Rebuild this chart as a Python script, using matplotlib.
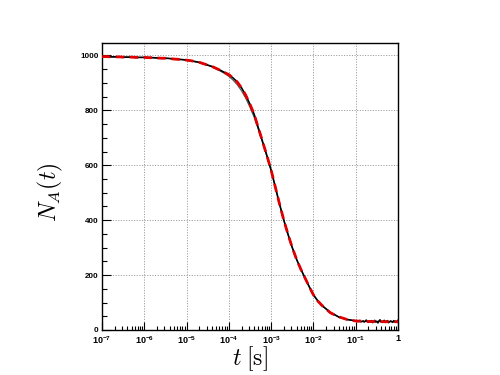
import numpy as np
import matplotlib
matplotlib.use("Agg")
import matplotlib.pyplot as plt
from matplotlib.ticker import LogLocator, MultipleLocator, FixedLocator, FixedFormatter

# ---- data ----
# main part: log10(t) from -7.0 to -1.1 in steps of 0.1
logt_main = np.round(np.arange(-7.0, -1.05, 0.1), 3)
data_main = [995, 995, 995, 995, 994, 994, 994, 994, 993, 993,
             993, 992, 992, 991, 990, 990, 989, 987, 986, 985,
             983, 981, 978, 975, 970, 965, 960, 953, 946, 938,
             930, 918, 903, 882, 855, 822, 785, 735, 685, 635,
             582, 520, 458, 400, 348, 300, 258, 222, 190, 158,
             128, 107, 89, 77, 63, 56, 47, 43, 38, 36]
# tail: log10(t) from -1.0 to 0.0 in steps of 0.025 (noisy)
logt_tail = np.round(np.arange(-1.0, 0.0001, 0.025), 3)
data_tail = [33, 34, 31, 32, 35, 30, 31, 33, 29, 32,
             36, 31, 28, 33, 30, 34, 27, 31, 35, 29,
             32, 26, 33, 37, 30, 28, 32, 35, 29, 31,
             34, 27, 30, 33, 31, 28, 34, 30, 32, 29,
             35]

# fits: log10(t) from -7.0 to 0.0 in steps of 0.1
logt_fit = np.round(np.arange(-7.0, 0.05, 0.1), 3)
fit_red = [996, 996, 995, 995, 995, 994, 994, 994, 993, 993,
           993, 992, 992, 991, 990, 990, 989, 987, 986, 985,
           983, 981, 978, 975, 970, 965, 960, 953, 946, 938,
           930, 918, 903, 882, 855, 822, 785, 735, 685, 635,
           582, 520, 458, 400, 348, 300, 258, 222, 190, 158,
           128, 106, 90, 76, 63, 55, 48, 43, 38, 35,
           33, 32, 31.5, 31, 31, 30.5, 30.5, 30, 30, 30, 30]
fit_gray = [995, 995, 995, 995, 994, 994, 994, 994, 993, 993,
            993, 992, 992, 991, 990, 990, 989, 987, 986, 985,
            983, 980, 977, 974, 969, 964, 959, 951, 943, 934,
            924, 910, 893, 871, 844, 811, 774, 729, 681, 632,
            580, 520, 458, 400, 348, 300, 258, 222, 190, 158,
            128, 106, 90, 76, 63, 55, 48, 43, 38, 35,
            33, 32, 31.5, 31, 31, 30.5, 30.5, 30, 30, 30, 30]

xtick_exp = [-7, -6, -5, -4, -3, -2, -1, 0]
xtick_labels = [r"$10^{-7}$", r"$10^{-6}$", r"$10^{-5}$", r"$10^{-4}$",
                r"$10^{-3}$", r"$10^{-2}$", r"$10^{-1}$", "1"]
yticks = [0, 200, 400, 600, 800, 1000]

# ---- style ----
plt.rcParams["mathtext.fontset"] = "custom"
plt.rcParams["mathtext.rm"] = "Liberation Sans:bold"
plt.rcParams["mathtext.it"] = "Liberation Sans:bold"
plt.rcParams["mathtext.bf"] = "Liberation Sans:bold"
plt.rcParams["font.family"] = ["Liberation Sans", "DejaVu Sans"]

fig = plt.figure(figsize=(5, 3.75), dpi=100)
ax = fig.add_axes([0.204, 0.12, 0.592, 0.765])

t_data = np.concatenate([10.0 ** logt_main, 10.0 ** logt_tail])
n_data = np.concatenate([data_main, data_tail])
t_fit = 10.0 ** logt_fit

ax.plot(t_fit, fit_gray, color="#505050", lw=0.8, zorder=3)
ax.plot(t_data, n_data, color="black", lw=1.2, zorder=4)
ax.plot(t_fit, fit_red, color="#e00000", lw=2.0, ls=(0, (3, 2)), zorder=5)

ax.set_xscale("log")
ax.set_xlim(1e-7, 1)
ax.set_ylim(0, 1045)

ax.xaxis.set_major_locator(FixedLocator([10.0 ** e for e in xtick_exp]))
ax.xaxis.set_major_formatter(FixedFormatter(xtick_labels))
ax.xaxis.set_minor_locator(LogLocator(base=10, subs=np.arange(2, 10), numticks=20))
ax.xaxis.set_minor_formatter(FixedFormatter([]))
ax.yaxis.set_major_locator(FixedLocator(yticks))
ax.yaxis.set_minor_locator(MultipleLocator(50))

ax.tick_params(axis="both", which="both", direction="in", top=False, right=False,
               width=0.8)
ax.tick_params(axis="x", which="major", length=6, pad=3, labelsize=6.5)
ax.tick_params(axis="x", which="minor", length=3)
ax.tick_params(axis="y", which="major", length=6.5, pad=2.5, labelsize=5.8)
ax.tick_params(axis="y", which="minor", length=3.5)
for lab in ax.get_yticklabels():
    lab.set_fontweight("bold")
for lab in ax.get_xticklabels():
    lab.set_fontweight("bold")

ax.grid(True, which="major", color="#a0a0a0", ls=(0, (1.2, 1.5)), lw=0.7, zorder=1)
for s in ax.spines.values():
    s.set_linewidth(1.0)
    s.set_color("black")

ax.set_ylabel(r"$N_A(t)$", fontsize=17, math_fontfamily="cm")
ax.yaxis.set_label_coords(-0.125, 0.48)
ax.set_xlabel(r"$t\;[\mathrm{s}]$", fontsize=17, math_fontfamily="cm")
ax.xaxis.set_label_coords(0.5, -0.05)

fig.savefig("out.png", dpi=100)
